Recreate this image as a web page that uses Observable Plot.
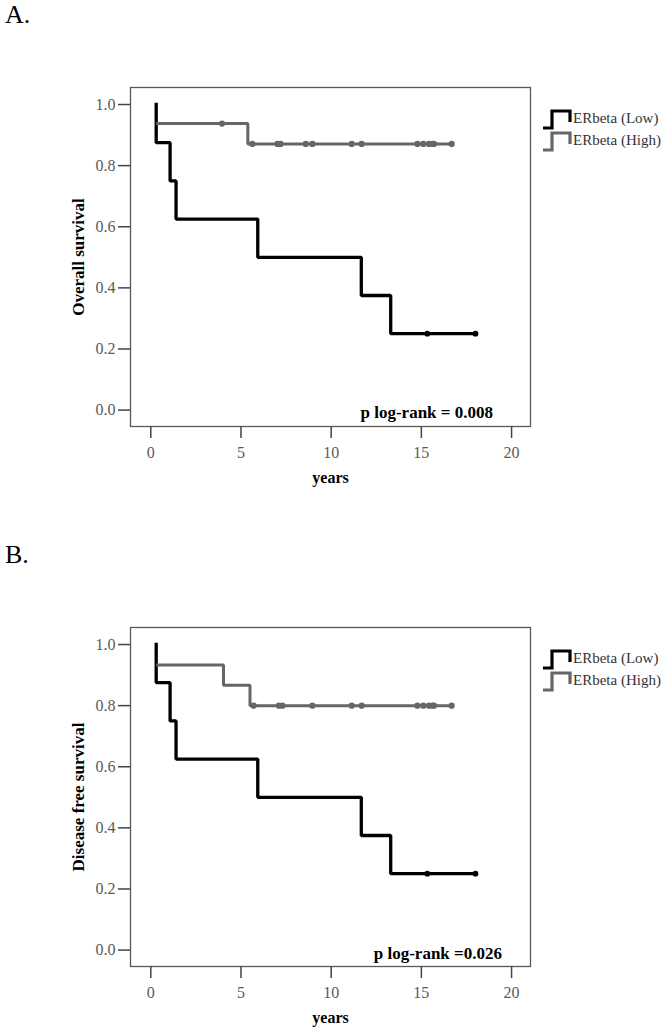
<!DOCTYPE html>
<html><head><meta charset="utf-8">
<script src="https://cdn.jsdelivr.net/npm/d3@7"></script>
<script src="https://cdn.jsdelivr.net/npm/@observablehq/plot@0.6"></script>
<style>
body{margin:0;background:#fff;}
#root{position:relative;width:672px;height:1032px;font-family:"Liberation Serif","DejaVu Serif",serif;overflow:hidden;}
.panel-label{position:absolute;left:5px;font-size:26px;line-height:26px;color:#000;}
.panel{position:absolute;left:0;width:672px;height:500px;}
.legend{position:absolute;left:535px;width:137px;height:60px;}
</style></head><body><div id="root"></div>
<script>
// ---------- data ----------
const panelLetters = ["A.", "B."];
const yLabels = ["Overall survival", "Disease free survival"];
const pTexts = ["p log-rank = 0.008", "p log-rank =0.026"];
const xLabel = "years";
const xTicks = [0, 5, 10, 15, 20];
const yTicks = [0, 0.2, 0.4, 0.6, 0.8, 1.0];
const seriesNames = ["ERbeta (Low)", "ERbeta (High)"];
const seriesColors = ["#000000", "#666666"];

// Panel A (overall survival)
const aLowTimes = [0.3, 0.3, 1.07, 1.4, 5.93, 11.67, 13.3, 18.0];
const aLowSurv  = [1.0, 0.875, 0.75, 0.625, 0.5, 0.375, 0.25, 0.25];
const aLowCensor = [15.33, 18.0];
const aHighTimes = [0.3, 5.38, 16.68];
const aHighSurv  = [0.9375, 0.871, 0.871];
const aHighCensor = [3.95, 5.63, 7.02, 7.2, 8.59, 8.96, 11.14, 11.69, 14.78, 15.11, 15.42, 15.61, 15.7, 16.68];

// Panel B (disease free survival)
const bLowTimes = [0.3, 0.3, 1.07, 1.4, 5.93, 11.67, 13.3, 18.0];
const bLowSurv  = [1.0, 0.875, 0.75, 0.625, 0.5, 0.375, 0.25, 0.25];
const bLowCensor = [15.33, 18.0];
const bHighTimes = [0.3, 4.03, 5.5, 16.68];
const bHighSurv  = [0.933, 0.867, 0.8, 0.8];
const bHighCensor = [5.7, 7.1, 7.3, 8.96, 11.14, 11.69, 14.78, 15.11, 15.42, 15.61, 15.7, 16.68];

// ---------- helpers ----------
const toRows = (times, surv) => times.map((t, i) => ({t, s: surv[i]}));
function survAt(times, surv, t) {
  let v = surv[0];
  for (let i = 0; i < times.length; i++) if (times[i] <= t) v = surv[i];
  return v;
}
const censorRows = (times, surv, c) => c.map(t => ({t, s: survAt(times, surv, t)}));

const panels = [
  {low: toRows(aLowTimes, aLowSurv), lowC: censorRows(aLowTimes, aLowSurv, aLowCensor),
   high: toRows(aHighTimes, aHighSurv), highC: censorRows(aHighTimes, aHighSurv, aHighCensor),
   pdx: -37.5, pdy: -9},
  {low: toRows(bLowTimes, bLowSurv), lowC: censorRows(bLowTimes, bLowSurv, bLowCensor),
   high: toRows(bHighTimes, bHighSurv), highC: censorRows(bHighTimes, bHighSurv, bHighCensor),
   pdx: -28.5, pdy: -8}
];

const root = document.getElementById("root");
const serif = "'Liberation Serif', 'DejaVu Serif', serif";

panels.forEach((p, k) => {
  const top = k * 540;
  const lab = document.createElement("div");
  lab.className = "panel-label";
  lab.style.top = (top + 2) + "px";
  lab.textContent = panelLetters[k];
  root.appendChild(lab);

  const chart = Plot.plot({
    width: 672, height: 500,
    marginLeft: 130, marginRight: 142, marginTop: 87, marginBottom: 74,
    style: {fontFamily: serif, background: "transparent", overflow: "visible"},
    x: {domain: [-1.125, 21.05]},
    y: {domain: [-0.0537, 1.0557]},
    marks: [
      Plot.frame({stroke: "#595959", strokeWidth: 1.3}),
      Plot.axisY({ticks: yTicks, tickFormat: d3.format(".1f"), tickSize: 12, tickPadding: 3,
        fontFamily: serif, fontSize: 16, stroke: "#444", strokeWidth: 1.5, fill: "#5a5a5a", label: null}),
      Plot.axisX({ticks: xTicks, tickFormat: d3.format("d"), tickSize: 12, tickPadding: 8,
        fontFamily: serif, fontSize: 16, stroke: "#444", strokeWidth: 1.5, fill: "#5a5a5a", label: null}),
      Plot.line(p.low, {x: "t", y: "s", curve: "step-after", stroke: seriesColors[0],
        strokeWidth: 3.3, strokeLinejoin: "miter", strokeLinecap: "square"}),
      Plot.dot(p.lowC, {x: "t", y: "s", r: 2.9, fill: seriesColors[0]}),
      Plot.line(p.high, {x: "t", y: "s", curve: "step-after", stroke: seriesColors[1],
        strokeWidth: 3, strokeLinejoin: "miter", strokeLinecap: "butt"}),
      Plot.dot(p.highC, {x: "t", y: "s", r: 3.1, fill: seriesColors[1]}),
      Plot.text([pTexts[k]], {frameAnchor: "bottom-right", dx: p.pdx, dy: p.pdy, lineAnchor: "bottom",
        fontFamily: serif, fontWeight: "bold", fontSize: 17, fill: "#000"}),
      Plot.text([xLabel], {frameAnchor: "bottom", dy: 56, lineAnchor: "bottom",
        fontFamily: serif, fontWeight: "bold", fontSize: 16, fill: "#000"}),
      Plot.text([yLabels[k]], {frameAnchor: "left", dx: -52, rotate: -90, textAnchor: "middle",
        lineAnchor: "middle", fontFamily: serif, fontWeight: "bold", fontSize: 17, fill: "#000"})
    ]
  });
  chart.classList.add("panel");
  chart.style.top = top + "px";
  root.appendChild(chart);

  // legend (to the right of the frame)
  const leg = d3.select(root).append("svg").attr("class", "legend")
    .attr("width", 137).attr("height", 60)
    .style("top", (top + 100) + "px");
  seriesNames.forEach((name, i) => {
    const oy = i * 22;
    leg.append("path")
      .attr("d", `M8,${28 + oy} H17 V${11 + oy} H35 V${22 + oy}`)
      .attr("fill", "none").attr("stroke", seriesColors[i]).attr("stroke-width", 3.2)
      .attr("stroke-linejoin", "miter");
    leg.append("text").attr("x", 38).attr("y", 23 + oy)
      .attr("font-family", serif).attr("font-size", 15).attr("fill", "#333")
      .text(name);
  });
});
</script>
</body></html>
